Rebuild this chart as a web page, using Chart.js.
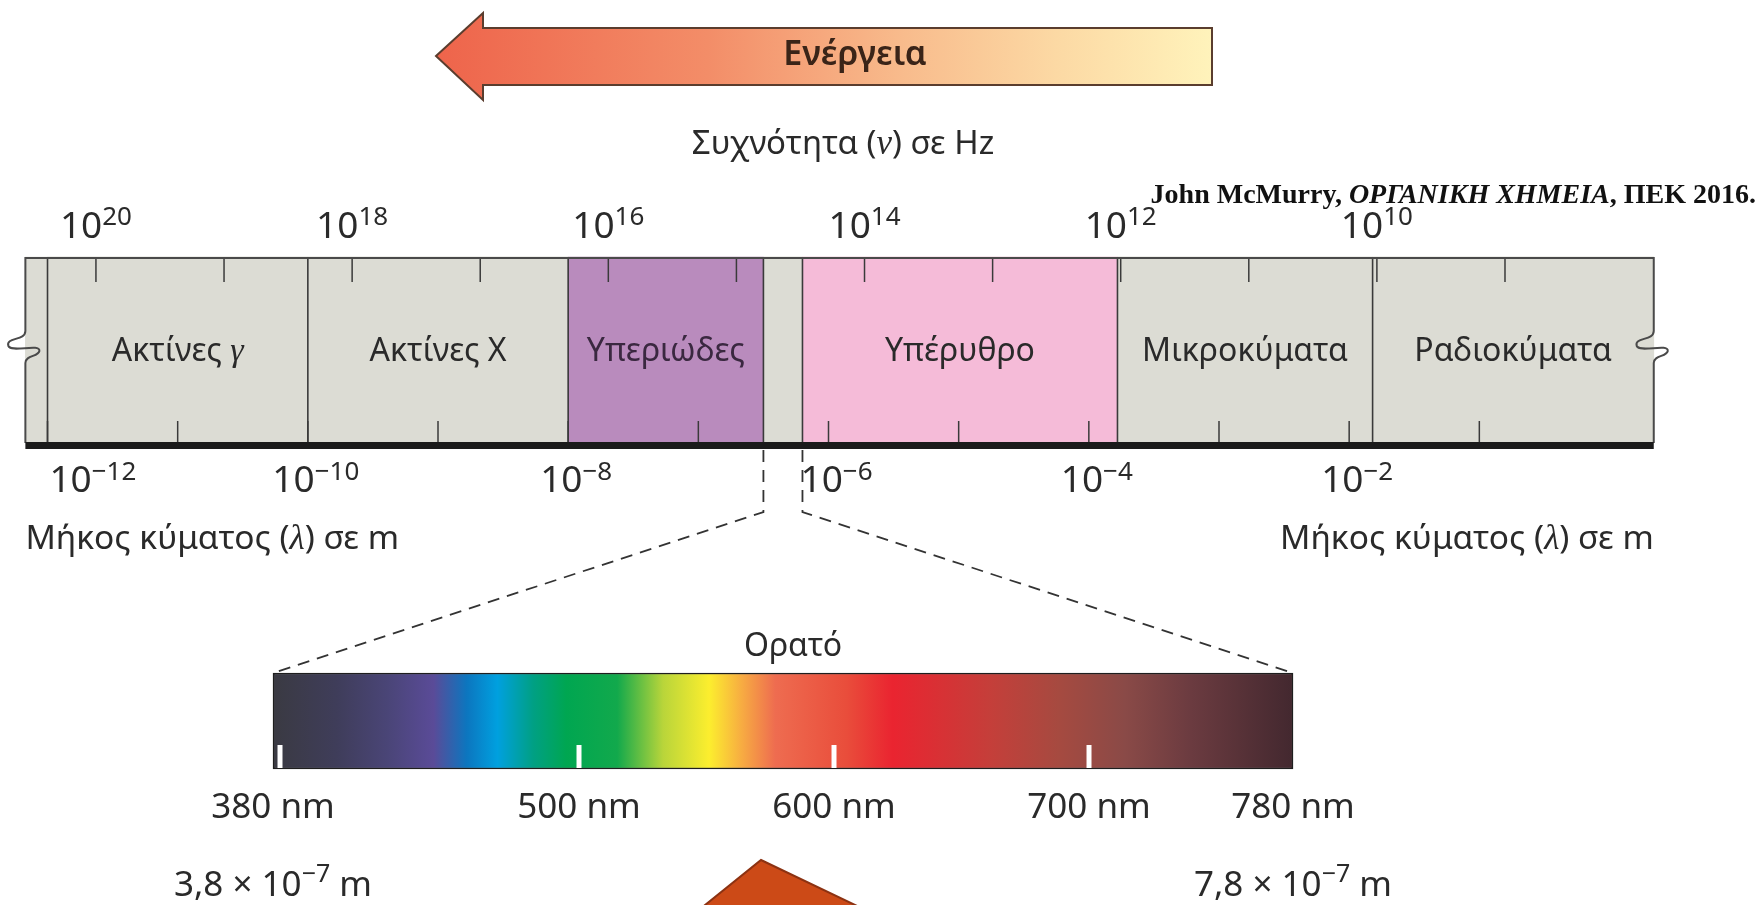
<!DOCTYPE html>
<html lang="el">
<head>
<meta charset="utf-8">
<title>Ηλεκτρομαγνητικό φάσμα</title>
<script src="https://cdn.jsdelivr.net/npm/chart.js@4.4.1/dist/chart.umd.min.js"></script>
<style>
  html, body { margin: 0; padding: 0; background: #fff; overflow: hidden; }
  #wrap { width: 1764px; height: 905px; }
</style>
</head>
<body>
<div id="wrap"><canvas id="spectrum" width="1764" height="905"></canvas></div>
<script>
// Regions of the spectrum, boundaries in log10(wavelength / m)
const regionNames = ["Ακτίνες γ", "Ακτίνες X", "Υπεριώδες", "Ορατό", "Υπέρυθρο", "Μικροκύματα", "Ραδιοκύματα"];
const regionFrom = [-12, -10, -8, -6.5, -6.2, -3.78, -1.82];
const regionTo = [-10, -8, -6.5, -6.2, -3.78, -1.82, 0.34];
const bandExtent = [-12.17, 0.34];

// Frequency axis (log10 Hz) and wavelength axis (log10 m)
const freqTickExps = [20, 19, 18, 17, 16, 15, 14, 13, 12, 11, 10, 9];
const freqLabelExps = [20, 18, 16, 14, 12, 10];
const waveTickExps = [-12, -11, -10, -9, -8, -7, -6, -5, -4, -3, -2, -1];
const waveLabelExps = [-12, -10, -8, -6, -4, -2];

// Visible part, in nm
const visibleNm = [380, 780];
const nmMarks = [380, 500, 600, 700];
const nmLabels = [380, 500, 600, 700, 780];
const visibleMeters = ["3,8", "7,8"]; // × 10^-7 m

// styles
const regionColors = ["#dcdcd4", "#dcdcd4", "#b98bbd", "#dcdcd4", "#f5bbd8", "#dcdcd4", "#dcdcd4"];
const spectrumStops = [
  [380, "#3a3a42"], [405, "#3f3d5a"], [425, "#4a4577"], [443, "#5a4b98"],
  [456, "#0c76bf"], [468, "#00a0df"], [482, "#00a084"], [495, "#00a651"],
  [515, "#12a94c"], [533, "#b9d53a"], [551, "#fcee2e"], [564, "#f7ab42"],
  [577, "#ee6c50"], [605, "#e94d3b"], [623, "#ea2430"], [662, "#c43f3a"],
  [688, "#a64a40"], [714, "#8a4a47"], [740, "#6b3b40"], [780, "#43282f"]
];

const BAND = { center: 350, height: 186 };
const SPEC = { center: 721, height: 96 };
const TXT = "#2a2a2a";
const SANS = '"Noto Sans", "Open Sans", sans-serif';
const SERIF = '"Liberation Serif", "Times New Roman", serif';

function drawRich(ctx, parts, x, y, align) {
  let w = 0;
  parts.forEach((p) => { ctx.font = p.font; w += ctx.measureText(p.text).width; });
  let cx = align === "center" ? x - w / 2 : align === "right" ? x - w : x;
  ctx.textAlign = "left";
  ctx.textBaseline = "alphabetic";
  parts.forEach((p) => {
    ctx.font = p.font;
    ctx.fillText(p.text, cx, y + (p.dy || 0));
    cx += ctx.measureText(p.text).width;
  });
  return w;
}

function power10(exp, dy) {
  const sup = exp < 0 ? "\u2212" + (-exp) : String(exp);
  return [
    { text: "10", font: "37px " + SANS },
    { text: sup, font: "26px " + SANS, dy: dy },
  ];
}

function squiggle(ctx, x, yc) {
  ctx.beginPath();
  ctx.moveTo(x, yc - 16);
  ctx.bezierCurveTo(x, yc - 6, x - 20, yc - 10, x - 17, yc - 1);
  ctx.bezierCurveTo(x - 14, yc + 6, x + 15, yc - 4, x + 14, yc + 4);
  ctx.bezierCurveTo(x + 13, yc + 10, x, yc + 8, x, yc + 16);
  ctx.stroke();
}

function spectrumFill(c) {
  const s = c.chart.scales.nm;
  if (!s) return "#888";
  const a = s.getPixelForValue(visibleNm[0]);
  const b = s.getPixelForValue(visibleNm[1]);
  if (!isFinite(a) || !isFinite(b)) return "#888";
  const grad = c.chart.ctx.createLinearGradient(a, 0, b, 0);
  spectrumStops.forEach(([v, col]) => grad.addColorStop((v - visibleNm[0]) / (visibleNm[1] - visibleNm[0]), col));
  return grad;
}

const decor = {
  id: "decor",
  afterDatasetsDraw(chart) {
    const ctx = chart.ctx;
    const wave = chart.scales.wave;
    const freq = chart.scales.freq;
    const nm = chart.scales.nm;
    const top = BAND.center - BAND.height / 2;
    const bottom = BAND.center + BAND.height / 2;
    const left = wave.getPixelForValue(bandExtent[0]);
    const right = wave.getPixelForValue(bandExtent[1]);
    ctx.save();

    // energy arrow
    const g = ctx.createLinearGradient(436, 0, 1212, 0);
    g.addColorStop(0, "#ee644b");
    g.addColorStop(0.35, "#f38d68");
    g.addColorStop(0.6, "#f8bb8c");
    g.addColorStop(0.8, "#fcd9a4");
    g.addColorStop(1, "#fff3bb");
    ctx.beginPath();
    ctx.moveTo(436, 56);
    ctx.lineTo(483, 13);
    ctx.lineTo(483, 28);
    ctx.lineTo(1212, 28);
    ctx.lineTo(1212, 85);
    ctx.lineTo(483, 85);
    ctx.lineTo(483, 100);
    ctx.closePath();
    ctx.fillStyle = g;
    ctx.fill();
    ctx.strokeStyle = "#5a3d2e";
    ctx.lineWidth = 2;
    ctx.stroke();
    ctx.fillStyle = "#3a2418";
    ctx.font = "600 34px " + SANS;
    ctx.textAlign = "center";
    ctx.textBaseline = "middle";
    ctx.fillText("Ενέργεια", 855, 55);

    // frequency title and citation
    ctx.fillStyle = TXT;
    drawRich(ctx, [
      { text: "Συχνότητα (", font: "33px " + SANS },
      { text: "ν", font: "italic 35px " + SERIF },
      { text: ") σε Hz", font: "33px " + SANS },
    ], 843, 154, "center");
    ctx.fillStyle = "#111";
    drawRich(ctx, [
      { text: "John McMurry, ", font: "bold 28px " + SERIF },
      { text: "ΟΡΓΑΝΙΚΗ ΧΗΜΕΙΑ", font: "italic bold 28px " + SERIF },
      { text: ", ΠΕΚ 2016.", font: "bold 28px " + SERIF },
    ], 1756, 203, "right");

    // frequency labels
    ctx.fillStyle = TXT;
    freqLabelExps.forEach((e) => {
      drawRich(ctx, power10(e, -13), freq.getPixelForValue(e), 238, "center");
    });

    // dividers
    ctx.strokeStyle = "#3a3a3a";
    ctx.lineWidth = 1.6;
    regionFrom.forEach((v) => {
      const x = wave.getPixelForValue(v);
      ctx.beginPath();
      ctx.moveTo(x, top);
      ctx.lineTo(x, bottom);
      ctx.stroke();
    });
    // ticks
    ctx.lineWidth = 1.5;
    freqTickExps.forEach((e) => {
      const x = freq.getPixelForValue(e);
      ctx.beginPath();
      ctx.moveTo(x, top);
      ctx.lineTo(x, top + 25);
      ctx.stroke();
    });
    waveTickExps.forEach((e) => {
      const x = wave.getPixelForValue(e);
      ctx.beginPath();
      ctx.moveTo(x, bottom - 22);
      ctx.lineTo(x, bottom);
      ctx.stroke();
    });

    // band outline
    ctx.strokeStyle = "#4a4a4a";
    ctx.lineWidth = 2;
    ctx.beginPath();
    ctx.moveTo(left, top + 1);
    ctx.lineTo(right, top + 1);
    ctx.stroke();
    const yc = BAND.center - 3;
    [left, right].forEach((x) => {
      ctx.beginPath();
      ctx.moveTo(x, top);
      ctx.lineTo(x, yc - 16);
      ctx.moveTo(x, yc + 16);
      ctx.lineTo(x, bottom);
      ctx.stroke();
      squiggle(ctx, x, yc);
    });
    ctx.fillStyle = "#1b1b1b";
    ctx.fillRect(left, bottom - 1, right - left, 7);

    // region labels
    regionNames.forEach((name, i) => {
      if (i === 3) return;
      const x = (wave.getPixelForValue(regionFrom[i]) + wave.getPixelForValue(regionTo[i])) / 2;
      ctx.fillStyle = i === 2 ? "#3a2840" : TXT;
      if (name.endsWith(" γ")) {
        drawRich(ctx, [
          { text: name.slice(0, -1), font: "32px " + SANS },
          { text: "γ", font: "italic 34px " + SERIF },
        ], x, BAND.center + 11, "center");
      } else {
        drawRich(ctx, [{ text: name, font: "32px " + SANS }], x, BAND.center + 11, "center");
      }
    });

    // wavelength labels
    ctx.fillStyle = TXT;
    waveLabelExps.forEach((e) => {
      const parts = power10(e, -12);
      let x = wave.getPixelForValue(e) + 8;
      ctx.font = parts[0].font;
      const w0 = ctx.measureText(parts[0].text).width;
      ctx.font = parts[1].font;
      const w = w0 + ctx.measureText(parts[1].text).width;
      x = Math.max(x, left + 24 + w / 2);
      drawRich(ctx, parts, x, 492, "center");
    });
    const lam = [
      { text: "Μήκος κύματος (", font: "33.5px " + SANS },
      { text: "λ", font: "italic 35px " + SERIF },
      { text: ") σε m", font: "33.5px " + SANS },
    ];
    drawRich(ctx, lam, left, 549, "left");
    drawRich(ctx, lam, right, 549, "right");

    // zoom lines to the visible spectrum
    const sx0 = nm.getPixelForValue(visibleNm[0]);
    const sx1 = nm.getPixelForValue(visibleNm[1]);
    const sTop = SPEC.center - SPEC.height / 2;
    const sBottom = SPEC.center + SPEC.height / 2;
    const v0 = wave.getPixelForValue(regionFrom[3]);
    const v1 = wave.getPixelForValue(regionTo[3]);
    ctx.strokeStyle = "#333";
    ctx.lineWidth = 1.8;
    ctx.setLineDash([12, 8]);
    ctx.beginPath();
    ctx.moveTo(v0, bottom + 7);
    ctx.lineTo(v0, 512);
    ctx.lineTo(sx0, sTop);
    ctx.moveTo(v1, bottom + 7);
    ctx.lineTo(v1, 512);
    ctx.lineTo(sx1, sTop);
    ctx.stroke();
    ctx.setLineDash([]);

    // visible spectrum marks and labels
    ctx.strokeStyle = "#ffffff";
    ctx.lineWidth = 5;
    nmMarks.forEach((v) => {
      const x = Math.max(nm.getPixelForValue(v), sx0 + 7);
      ctx.beginPath();
      ctx.moveTo(x, sBottom - 24);
      ctx.lineTo(x, sBottom - 1);
      ctx.stroke();
    });
    ctx.fillStyle = TXT;
    drawRich(ctx, [{ text: "Ορατό", font: "32px " + SANS }], (sx0 + sx1) / 2 + 10, 656, "center");
    nmLabels.forEach((v) => {
      drawRich(ctx, [{ text: v + " nm", font: "35px " + SANS }], nm.getPixelForValue(v), 818, "center");
    });
    const meters = (m) => [
      { text: m + " × 10", font: "35px " + SANS },
      { text: "\u22127", font: "25px " + SANS, dy: -14 },
      { text: " m", font: "35px " + SANS },
    ];
    drawRich(ctx, meters(visibleMeters[0]), sx0, 896, "center");
    drawRich(ctx, meters(visibleMeters[1]), sx1, 896, "center");

    // orange pointer at the bottom
    ctx.beginPath();
    ctx.moveTo(761, 860);
    ctx.lineTo(899, 926);
    ctx.lineTo(679, 926);
    ctx.closePath();
    ctx.fillStyle = "#cc4a17";
    ctx.fill();
    ctx.strokeStyle = "#8c3212";
    ctx.lineWidth = 2;
    ctx.stroke();

    ctx.restore();
  },
};

const chart = new Chart(document.getElementById("spectrum"), {
  type: "bar",
  data: {
    datasets: [
      {
        label: "Φάσμα",
        xAxisID: "wave",
        yAxisID: "y",
        data: [{ x: bandExtent, y: BAND.center }],
        backgroundColor: "#dcdcd4",
        barThickness: BAND.height,
        grouped: false,
        order: 3,
      },
      {
        label: "Περιοχές",
        xAxisID: "wave",
        yAxisID: "y",
        data: regionNames.map((n, i) => ({ x: [regionFrom[i], regionTo[i]], y: BAND.center })),
        backgroundColor: regionColors,
        barThickness: BAND.height,
        grouped: false,
        order: 2,
      },
      {
        label: "Ορατό",
        xAxisID: "nm",
        yAxisID: "y",
        data: [{ x: visibleNm, y: SPEC.center }],
        backgroundColor: spectrumFill,
        borderColor: "#1e1e1e",
        borderWidth: 1.5,
        borderSkipped: false,
        barThickness: SPEC.height,
        grouped: false,
        order: 1,
      },
    ],
  },
  options: {
    indexAxis: "y",
    responsive: false,
    animation: false,
    events: [],
    layout: { padding: 0 },
    scales: {
      wave: { type: "linear", axis: "x", display: false, min: -12.365, max: 1.187 },
      freq: { type: "linear", axis: "x", display: false, reverse: true, min: 6.978, max: 20.749 },
      nm: { type: "linear", axis: "x", display: false, min: 272.94, max: 964.7 },
      y: { type: "linear", display: false, reverse: true, offset: false, min: 0, max: 905 },
    },
    plugins: {
      legend: { display: false },
      tooltip: { enabled: false },
    },
  },
  plugins: [decor],
});
chart.update();
</script>
</body>
</html>
